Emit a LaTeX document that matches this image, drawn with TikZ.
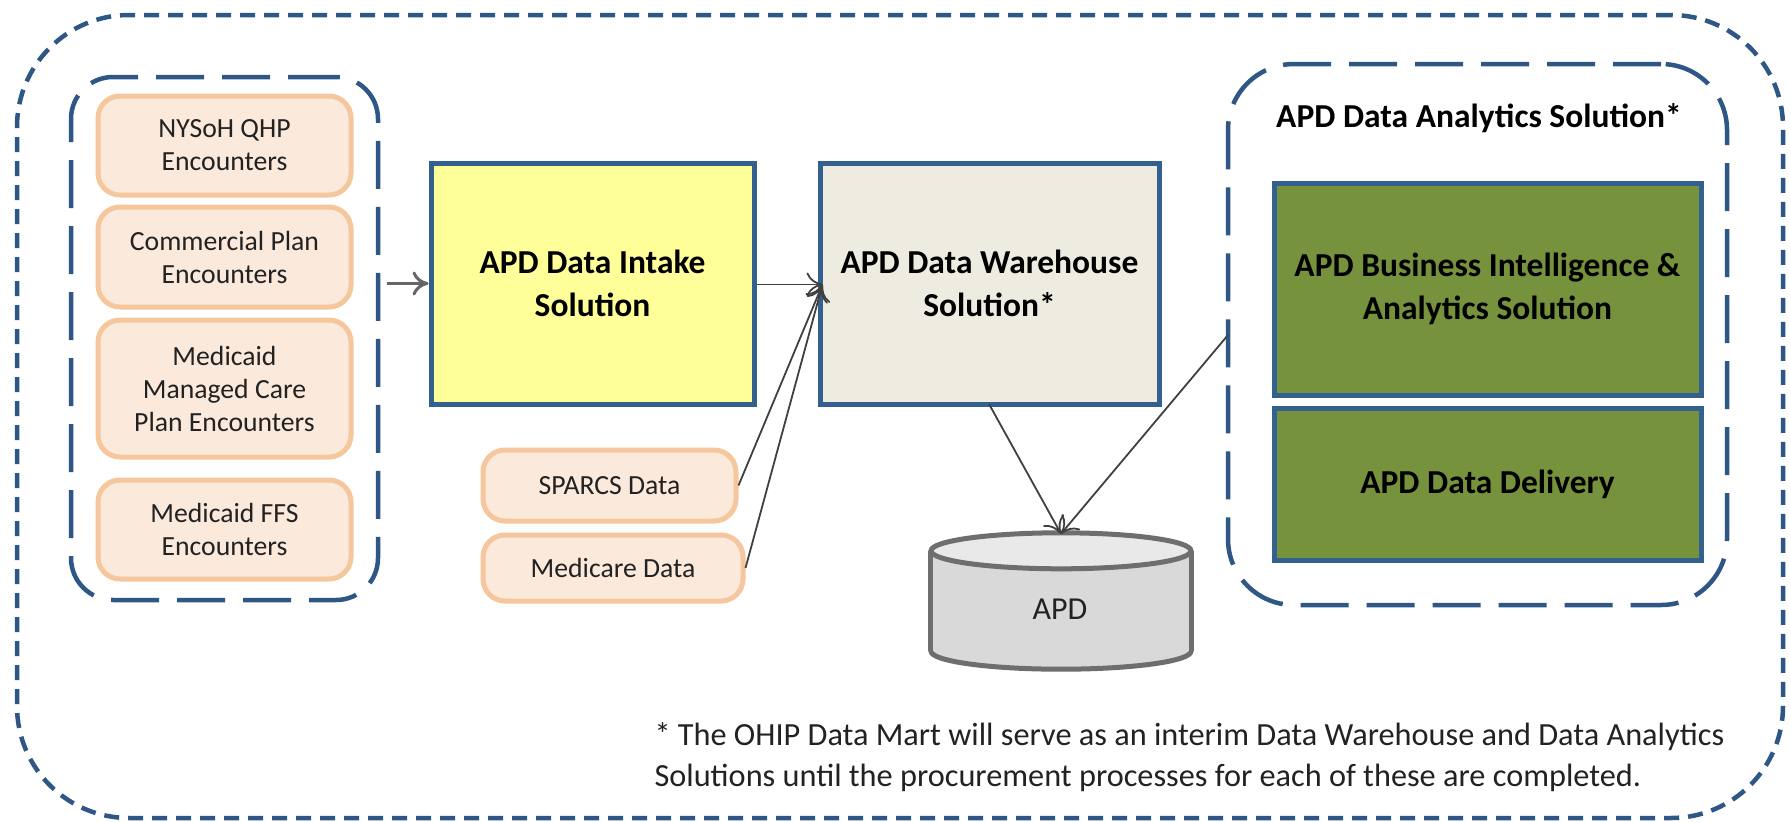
\documentclass[tikz,border=0pt]{standalone}
\usepackage{fontspec}
\setmainfont{Carlito}
\usetikzlibrary{arrows.meta,calc}
\definecolor{frameblue}{HTML}{2E5785}
\definecolor{boxblue}{HTML}{34608F}
\definecolor{peachfill}{HTML}{FBE9DC}
\definecolor{peachline}{HTML}{F6C79C}
\definecolor{intakefill}{HTML}{FFFF99}
\definecolor{housefill}{HTML}{EEECE1}
\definecolor{greenfill}{HTML}{76923C}
\definecolor{drumfill}{HTML}{D9D9D9}
\definecolor{drumtop}{HTML}{E9E9E9}
\definecolor{drumline}{HTML}{6E6E6E}
\definecolor{inktext}{HTML}{222222}
\tikzset{
  x=1pt,y=-1pt,
  outerframe/.style={draw=frameblue,line width=4.5pt,dash pattern=on 15pt off 9pt,rounded corners=112pt,inner sep=0pt},
  groupframe/.style={draw=frameblue,line width=4.5pt,dash pattern=on 48pt off 18pt,inner sep=0pt},
  sourcebox/.style={draw=peachline,fill=peachfill,line width=5pt,rounded corners=22pt,inner sep=0pt,align=center,text=inktext,font=\fontsize{27.7}{33}\selectfont},
  mainbox/.style={draw=boxblue,line width=5pt,inner sep=0pt,align=center,text=black,font=\fontsize{33.5}{43}\selectfont\bfseries},
  thinflow/.style={draw=black!75,line width=1.8pt,-{To[length=16pt,width=24pt]}},
  greyflow/.style={draw=black!60,line width=3pt,-{To[length=16pt,width=24pt]}},
}
\newcommand{\boxnode}[7][]{%
  \pgfmathsetmacro{\bcx}{(#3+#5)/2}\pgfmathsetmacro{\bcy}{(#4+#6)/2}%
  \pgfmathsetmacro{\bw}{#5-#3}\pgfmathsetmacro{\bh}{#6-#4}%
  \node[#1,minimum width=\bw pt,minimum height=\bh pt] (#2) at (\bcx,\bcy) {#7};}
\begin{document}
\begin{tikzpicture}
\useasboundingbox (0,0) rectangle (1791,822);
\fill[white] (0,0) rectangle (1791,822);
\boxnode[outerframe]{outer}{17}{15}{1783}{818}{}
\boxnode[groupframe,rounded corners=42pt]{leftgroup}{71}{77}{378}{600}{}
\boxnode[groupframe,rounded corners=66pt]{rightgroup}{1228}{64}{1727}{605}{}
\boxnode[sourcebox]{qhp}{98}{96}{351}{195}{NYSoH QHP\\Encounters}
\boxnode[sourcebox]{comm}{98}{207}{351}{307}{Commercial Plan\\Encounters}
\boxnode[sourcebox]{mmc}{98}{320}{351}{457}{Medicaid\\Managed Care\\Plan Encounters}
\boxnode[sourcebox]{ffs}{98}{480}{351}{579}{Medicaid FFS\\Encounters}
\boxnode[sourcebox]{sparcs}{483}{450}{736}{521}{SPARCS Data}
\boxnode[sourcebox]{medicare}{483}{535}{743}{601}{Medicare Data}
\boxnode[mainbox,fill=intakefill]{intake}{431}{163}{754}{404}{APD Data Intake\\Solution}
\boxnode[mainbox,fill=housefill]{house}{820}{163}{1159}{404}{APD Data Warehouse\\Solution*}
\boxnode[mainbox,fill=greenfill]{bi}{1274}{183}{1701}{395}{APD Business Intelligence \&\\Analytics Solution}
\boxnode[mainbox,fill=greenfill]{delivery}{1274}{408}{1701}{560}{APD Data Delivery}
\node[text=black,font=\fontsize{33.5}{33}\selectfont\bfseries] (antitle) at (1479,118) {APD Data Analytics Solution*};
% drum
\node[minimum width=260pt,minimum height=136pt,inner sep=0pt] (drum) at (1061,601) {};
\draw[draw=drumline,fill=drumfill,line width=5pt] ($(drum.south)+(0,-18)$) ellipse[x radius=130,y radius=18];
\fill[drumfill] ($(drum.north west)+(0,18)$) rectangle ($(drum.south east)+(0,-18)$);
\draw[draw=drumline,line width=5pt] ($(drum.north west)+(0,18)$) -- ($(drum.south west)+(0,-18)$);
\draw[draw=drumline,line width=5pt] ($(drum.north east)+(0,18)$) -- ($(drum.south east)+(0,-18)$);
\draw[draw=drumline,fill=drumtop,line width=5pt] ($(drum.north)+(0,18)$) ellipse[x radius=130,y radius=18];
\node[text=inktext,font=\fontsize{32}{36}\selectfont] (apdlabel) at (1060,609) {APD};
\coordinate (housein) at ($(house.west)+(5,1)$);
\coordinate (intakeout) at ($(intake.east)+(0,1)$);
\coordinate (drumin) at ($(drum.north)+(0,1)$);
\coordinate (houseout) at (989,404);
\coordinate (rightout) at (1228,335);
\draw[greyflow] ($(leftgroup.east |- intake.west)+(7,0)$) -- (intake.west);
\draw[thinflow] (intakeout) -- (housein);
\draw[thinflow] (sparcs.east) -- (housein);
\draw[thinflow] (medicare.east) -- (housein);
\draw[thinflow] (houseout) -- (drumin);
\draw[thinflow] (rightout) -- (drumin);
\node[anchor=west,align=left,text=inktext,font=\fontsize{32.3}{41}\selectfont] (note) at (651,757)
  {* The OHIP Data Mart will serve as an interim Data Warehouse and Data Analytics\\Solutions until the procurement processes for each of these are completed.};
\end{tikzpicture}
\end{document}
